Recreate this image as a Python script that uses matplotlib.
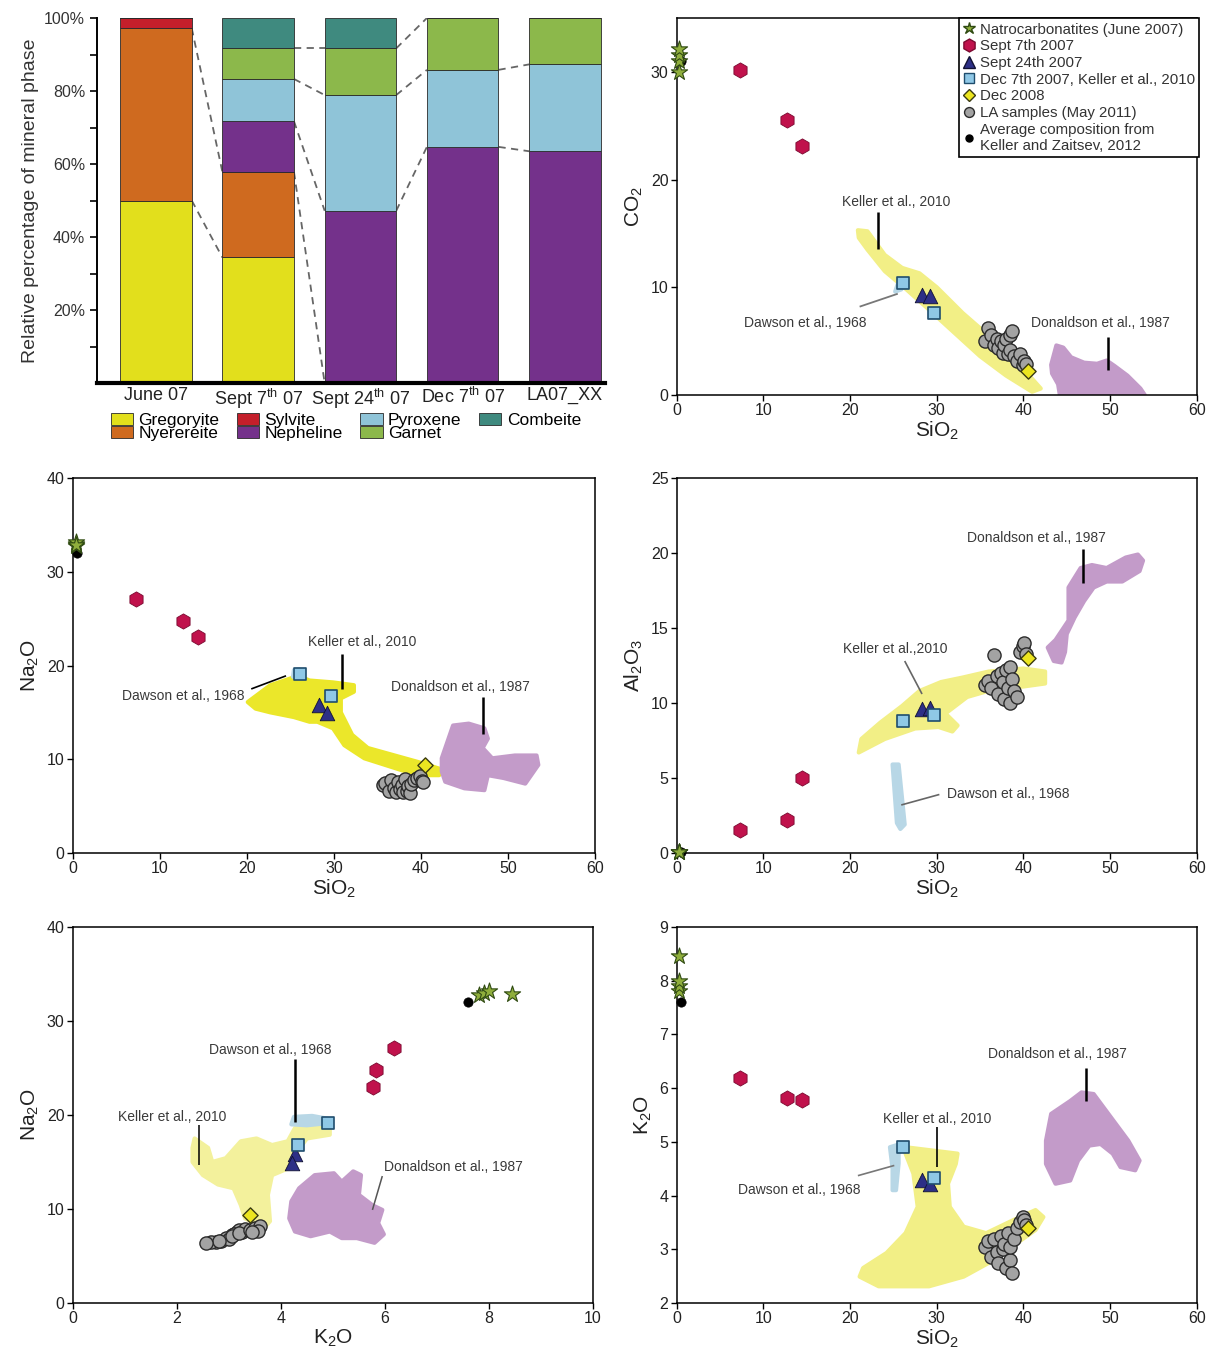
import numpy as np
import matplotlib.pyplot as plt
from matplotlib.patches import Polygon
from matplotlib.lines import Line2D

plt.rcParams['font.family'] = ['Liberation Sans', 'DejaVu Sans']
plt.rcParams['mathtext.fontset'] = 'custom'
plt.rcParams['mathtext.rm'] = 'Liberation Sans'
plt.rcParams['mathtext.it'] = 'Liberation Sans:italic'
plt.rcParams['mathtext.default'] = 'regular'

# ---- bar chart data (relative % of mineral phase) ----
samples = ["June 07", r"Sept 7$^{th}$ 07", r"Sept 24$^{th}$ 07", r"Dec 7$^{th}$ 07", "LA07_XX"]
phases = ["Gregoryite", "Nyerereite", "Sylvite", "Nepheline", "Pyroxene", "Garnet", "Combeite"]
gregoryite = [50.0, 34.4, 0, 0, 0]
nyerereite = [47.2, 23.4, 0, 0, 0]
sylvite = [2.8, 0, 0, 0, 0]
nepheline = [0, 13.9, 47.2, 64.7, 63.5]
pyroxene = [0, 11.6, 31.7, 21.1, 23.8]
garnet = [0, 8.4, 12.8, 14.2, 12.7]
combeite = [0, 8.3, 8.3, 0, 0]
phase_colors = ["#e2df1c", "#cf6a1f", "#c41f2b", "#74318b", "#8fc4d8", "#8cb84b", "#3f8a7f"]
# boundaries linked by dashed lines between neighbouring bars (gap, phase)
links = [(0, "Gregoryite"), (0, "Nyerereite"), (1, "Nyerereite"), (1, "Nepheline"),
         (1, "Pyroxene"), (1, "Garnet"), (2, "Nepheline"), (2, "Pyroxene"),
         (2, "Garnet"), (3, "Nepheline"), (3, "Pyroxene")]

# ---- sample compositions (wt%) ----
avg_sio2 = [0.5]
avg_co2 = [31.0]
avg_na2o = [32.0]
avg_al2o3 = [0.05]
avg_k2o = [7.6]

natro_sio2 = [0.3, 0.3, 0.3, 0.3]
natro_co2 = [30.0, 31.0, 31.6, 32.1]
natro_na2o = [32.8, 33.0, 33.2, 32.9]
natro_al2o3 = [0.05, 0.05, 0.05, 0.05]
natro_k2o = [7.8, 7.9, 8.0, 8.45]

sep7_sio2 = [7.3, 12.7, 14.4]
sep7_co2 = [30.2, 25.5, 23.1]
sep7_na2o = [27.1, 24.8, 23.0]
sep7_al2o3 = [1.5, 2.2, 5.0]
sep7_k2o = [6.18, 5.82, 5.78]

sep24_sio2 = [28.3, 29.2]
sep24_co2 = [9.3, 9.2]
sep24_na2o = [15.8, 14.9]
sep24_al2o3 = [9.6, 9.7]
sep24_k2o = [4.28, 4.22]

dec07_sio2 = [26.1, 29.7]
dec07_co2 = [10.4, 7.6]
dec07_na2o = [19.1, 16.8]
dec07_al2o3 = [8.8, 9.2]
dec07_k2o = [4.9, 4.32]

dec08_sio2 = [40.5]
dec08_co2 = [2.2]
dec08_na2o = [9.4]
dec08_al2o3 = [13.0]
dec08_k2o = [3.4]

la_sio2 = [35.6, 35.9, 36.3, 36.6, 36.9, 37.1, 37.4, 37.6, 37.8, 38.0,
           38.2, 38.4, 38.5, 38.7, 38.9, 39.2, 39.6, 39.9, 40.1, 40.3]
la_co2 = [5.0, 6.2, 5.6, 4.6, 5.2, 4.4, 5.0, 3.9, 4.6, 5.2,
          3.8, 5.6, 4.2, 5.9, 3.6, 3.2, 3.8, 2.8, 3.2, 2.9]
la_na2o = [7.2, 7.5, 6.6, 7.8, 6.9, 6.5, 7.6, 6.8, 7.3, 6.5,
           7.9, 6.6, 7.1, 6.4, 7.4, 7.8, 8.0, 8.2, 7.7, 7.6]
la_al2o3 = [11.2, 11.5, 11.0, 13.2, 11.8, 10.6, 12.0, 11.4, 10.3, 12.2,
            11.0, 12.4, 10.0, 11.6, 10.8, 10.4, 13.4, 13.8, 14.0, 13.3]
la_k2o = [3.05, 3.15, 2.85, 3.2, 2.95, 2.75, 3.25, 3.0, 3.1, 2.65,
          3.3, 2.8, 3.05, 2.55, 3.2, 3.4, 3.5, 3.6, 3.55, 3.45]

# ---- literature fields (outlines in wt%) ----
keller_co2 = [(20.9, 15.3), (22, 15.2), (24, 13.0), (26, 11.8), (28, 11.3), (30, 10.0),
              (33, 7.6), (36, 5.5), (39, 3.3), (42, 0.6), (41, 0.3), (38, 1.8),
              (35, 3.6), (32, 5.8), (29, 8.0), (26.5, 9.8), (24, 11.5), (22, 13.5), (21, 14.6)]
dawson_co2 = [(25.2, 9.6), (25.9, 9.8), (26.0, 10.4), (25.5, 10.3)]
donaldson_co2 = [(43.2, 2.8), (43.8, 4.6), (44.6, 4.4), (45.5, 3.5), (47, 3.0), (48.5, 2.9),
                 (49.6, 3.2), (50.5, 2.7), (52, 1.8), (53.5, 0.6), (54, 0.0), (44.2, 0.0),
                 (44, 1.0), (43.3, 2.0)]

keller_na2o = [(20.1, 16.1), (22.7, 17.9), (25.9, 18.9), (27.2, 18.4), (29.9, 18.2), (32.3, 17.9),
               (32.3, 17.2), (30.8, 16.5), (30.8, 15.0), (32.1, 12.6), (33.9, 11.2), (39.7, 9.7),
               (42.1, 9.0), (42.1, 8.3), (40.1, 8.3), (37.9, 8.8), (33.5, 10.1), (31.2, 11.5),
               (29.9, 13.3), (28.1, 14.0), (27.2, 14.0), (25.4, 14.5), (22.7, 15.0), (21, 15.4)]
dawson_na2o = [(25.3, 18.8), (26.1, 19.0), (26.0, 19.6), (25.4, 19.5)]
donaldson_na2o = [(42.4, 10.1), (43.7, 13.6), (45.5, 13.8), (47.3, 13.3), (47.7, 12.2), (47.1, 11.2),
                  (48.2, 10.1), (50.8, 10.4), (53.3, 10.4), (53.5, 9.4), (52, 7.4), (49.5, 8.0),
                  (47.7, 8.3), (47.3, 6.7), (45, 6.9), (42.8, 7.6), (42.4, 8.7)]

keller_al2o3 = [(21.0, 6.7), (24, 7.6), (27.5, 8.3), (30.2, 8.4), (31.8, 8.1), (32.4, 8.5),
                (31.0, 9.3), (33.5, 10.4), (36.5, 10.9), (40, 11.1), (42.5, 11.3), (42.5, 12.1),
                (40, 12.3), (36, 12.1), (33, 11.7), (30.5, 11.4), (28, 10.8), (26, 9.8),
                (23.5, 8.7), (21.3, 7.6)]
dawson_al2o3 = [(24.9, 5.9), (25.6, 5.9), (26.3, 1.9), (25.8, 1.6), (25.4, 2.0)]
donaldson_al2o3 = [(42.8, 13.7), (43.7, 14.2), (45.2, 15.5), (45.2, 17.7), (46.6, 19.0), (47.9, 19.2),
                   (49.6, 19.0), (51.8, 19.7), (53.2, 19.9), (53.8, 19.5), (53.4, 18.8), (51.4, 18.1),
                   (49.6, 18.1), (48.1, 17.7), (47.0, 16.8), (45.9, 15.7), (45.0, 14.6), (44.8, 13.4),
                   (44.4, 12.7), (43.5, 12.8)]

keller_kna = [(2.34, 17.5), (2.6, 16.5), (2.68, 15.0), (2.94, 15.4), (3.23, 17.2), (3.53, 17.5),
              (3.83, 16.8), (4.13, 17.2), (4.27, 18.6), (4.65, 18.9), (4.94, 18.6), (4.94, 17.9),
              (4.5, 17.5), (4.27, 15.8), (4.13, 14.3), (3.83, 13.6), (3.75, 11.5), (3.79, 8.7),
              (3.68, 8.0), (3.31, 9.0), (3.23, 10.4), (3.09, 12.2), (2.79, 12.6), (2.5, 13.6),
              (2.3, 15.0), (2.3, 16.5)]
dawson_kna = [(4.2, 19.0), (4.25, 19.8), (4.6, 19.9), (4.9, 19.6), (4.85, 19.1), (4.5, 18.9)]
donaldson_kna = [(4.2, 10.8), (4.35, 12.2), (4.65, 13.6), (5.02, 13.8), (5.17, 12.9), (5.39, 14.0),
                 (5.54, 13.6), (5.5, 11.5), (5.76, 10.4), (5.95, 9.9), (5.87, 8.5), (5.98, 7.3),
                 (5.8, 6.4), (5.46, 6.9), (5.17, 6.9), (4.94, 7.6), (4.57, 7.1), (4.27, 7.6),
                 (4.16, 9.0)]

keller_k2o = [(26.4, 4.9), (32.4, 4.78), (32.2, 4.59), (31.3, 4.22), (31.5, 3.79), (33.1, 3.42),
              (35.7, 3.3), (38.8, 3.54), (41.4, 3.73), (42.3, 3.6), (41.4, 3.36), (39.2, 3.11),
              (36.6, 2.8), (33.1, 2.49), (29.1, 2.31), (23.3, 2.31), (21.1, 2.49), (21.5, 2.65),
              (24.2, 2.93), (26.4, 3.3), (27.8, 3.79), (27.3, 4.41), (26.4, 4.78)]
dawson_k2o = [(24.6, 4.9), (25.6, 4.95), (25.6, 4.6), (25.3, 4.1), (24.9, 4.1), (24.9, 4.5)]
donaldson_k2o = [(43.2, 5.52), (45.4, 5.76), (46.7, 5.92), (48.1, 5.89), (49.8, 5.52), (52.1, 5.02),
                 (53.4, 4.65), (52.9, 4.47), (51.2, 4.53), (50.3, 4.78), (48.9, 4.96), (47.6, 4.93),
                 (46.3, 4.65), (45.4, 4.28), (43.7, 4.22), (42.6, 4.59), (42.6, 5.02)]

legend_labels = ["Natrocarbonatites (June 2007)", "Sept 7th 2007", "Sept 24th 2007",
                 "Dec 7th 2007, Keller et al., 2010", "Dec 2008", "LA samples (May 2011)",
                 "Average composition from\nKeller and Zaitsev, 2012"]

STYLES = {
    "la": dict(marker='o', s=90, facecolor='#a3a3a3', edgecolor='#2b2b2b', linewidths=1.0),
    "avg": dict(marker='o', s=45, facecolor='black', edgecolor='black', linewidths=0.5),
    "natro": dict(marker='*', s=150, facecolor='#8fae3c', edgecolor='#2f4a12', linewidths=0.8),
    "sep7": dict(marker='h', s=120, facecolor='#c0124c', edgecolor='#7a0a30', linewidths=0.6),
    "sep24": dict(marker='^', s=110, facecolor='#2d2f86', edgecolor='#111133', linewidths=0.6),
    "dec07": dict(marker='s', s=85, facecolor='#8fc8e6', edgecolor='#1f4d6d', linewidths=1.2),
    "dec08": dict(marker='D', s=60, facecolor='#ece520', edgecolor='#3a3a10', linewidths=1.0),
}

fig = plt.figure(figsize=(12.15, 13.55), dpi=100)

# ================= bar chart =================
ax = fig.add_axes([0.0798, 0.7173, 0.418, 0.2694])
values = np.array([gregoryite, nyerereite, sylvite, nepheline, pyroxene, garnet, combeite])
x = np.arange(len(samples))
width = 0.7
bottom = np.zeros(len(samples))
tops = {}
for name, vals, col in zip(phases, values, phase_colors):
    ax.bar(x, vals, width, bottom=bottom, color=col, edgecolor='#2a2a2a', linewidth=0.6, label=name)
    bottom = bottom + vals
    tops[name] = bottom.copy()
for gap, name in links:
    ax.plot([gap + width / 2, gap + 1 - width / 2], [tops[name][gap], tops[name][gap + 1]],
            ls=(0, (4, 3)), color='#666666', lw=1.3, zorder=0)
ax.set_xlim(-0.577, 4.39)
ax.set_ylim(0, 100)
ax.set_yticks(np.arange(10, 101, 10))
ax.set_yticklabels(['' if v % 20 else f'{v}%' for v in range(10, 101, 10)], fontsize=11.5, color='#333')
ax.set_xticks(x)
ax.set_xticklabels(samples, fontsize=13, color='#222')
ax.tick_params(axis='x', length=0, pad=3)
ax.tick_params(axis='y', direction='out', length=5, width=1.2)
for s in ['top', 'right']:
    ax.spines[s].set_visible(False)
ax.spines['bottom'].set_linewidth(3.0)
ax.spines['left'].set_linewidth(1.4)
ax.set_ylabel("Relative percentage of mineral phase", fontsize=14, color='#333', labelpad=4)
ax.legend(loc='upper center', bbox_to_anchor=(0.49, -0.04), ncol=4, frameon=False, fontsize=12.5,
          handlelength=1.3, handleheight=0.7, handletextpad=0.3, columnspacing=1.0, labelspacing=-0.15)


# ================= scatter panels =================
def style_axes(ax, xlim, ylim, xticks, yticks, xlabel, ylabel):
    ax.set_xlim(*xlim)
    ax.set_ylim(*ylim)
    ax.set_xticks(xticks)
    ax.set_yticks(yticks)
    ax.tick_params(direction='out', length=4, width=1.0, labelsize=11.5, labelcolor='#222', pad=2)
    for s in ax.spines.values():
        s.set_linewidth(1.1)
    ax.set_xlabel(xlabel, fontsize=15, color='#222', labelpad=1)
    ax.set_ylabel(ylabel, fontsize=15, color='#222', labelpad=4)


def add_fields(ax, keller, dawson, donaldson, kcol='#f2ef86'):
    for pts, col in [(keller, kcol), (dawson, '#b8d7e6'), (donaldson, '#c39bc9')]:
        ax.add_patch(Polygon(pts, closed=True, facecolor=col, edgecolor=col, lw=3,
                             joinstyle='round', zorder=1))


def add_points(ax, groups):
    for key, (xs, ys) in groups:
        ax.scatter(xs, ys, zorder=3, clip_on=False, **STYLES[key])


def note(ax, text, txy, lx, ly, lcol='black', lw=1.8):
    ax.text(txy[0], txy[1], text, ha='center', va='center', fontsize=10, color='#3a3a3a', zorder=5)
    ax.plot(lx, ly, color=lcol, lw=lw, zorder=4, solid_capstyle='butt')


# --- CO2 vs SiO2 ---
ax1 = fig.add_axes([0.557, 0.7085, 0.428, 0.2782])
add_fields(ax1, keller_co2, dawson_co2, donaldson_co2)
add_points(ax1, [("la", (la_sio2, la_co2)), ("avg", (avg_sio2, avg_co2)),
                 ("natro", (natro_sio2, natro_co2)), ("sep7", (sep7_sio2, sep7_co2)),
                 ("sep24", (sep24_sio2, sep24_co2)), ("dec07", (dec07_sio2, dec07_co2)),
                 ("dec08", (dec08_sio2, dec08_co2))])
note(ax1, "Keller et al., 2010", (25.3, 17.9), [23.2, 23.2], [17.0, 13.6])
note(ax1, "Dawson et al., 1968", (14.8, 6.7), [21.1, 25.5], [8.2, 9.4], lcol='#777777', lw=1.3)
note(ax1, "Donaldson et al., 1987", (48.9, 6.7), [49.7, 49.7], [5.4, 2.3])
style_axes(ax1, (0, 60), (0, 35), range(0, 61, 10), [0, 10, 20, 30], r"SiO$_2$", r"CO$_2$")
handles = [Line2D([], [], ls='none', marker=STYLES[k]['marker'],
                  markersize=np.sqrt(STYLES[k]['s']) * f,
                  markerfacecolor=STYLES[k]['facecolor'], markeredgecolor=STYLES[k]['edgecolor'])
           for k, f in [("natro", 0.75), ("sep7", 0.85), ("sep24", 0.85), ("dec07", 0.8),
                        ("dec08", 0.85), ("la", 0.75), ("avg", 0.75)]]
leg = ax1.legend(handles, legend_labels, loc='upper right', bbox_to_anchor=(1.005, 1.0),
                 borderaxespad=0, fontsize=10.8, fancybox=False, framealpha=1, edgecolor='black',
                 handlelength=0.8, handletextpad=0.3, labelspacing=0.18, borderpad=0.3)
leg.get_frame().set_linewidth(1.2)
for t in leg.get_texts():
    t.set_color('#333')

# --- Na2O vs SiO2 ---
ax2 = fig.add_axes([0.060, 0.3705, 0.4296, 0.2767])
add_fields(ax2, keller_na2o, dawson_na2o, donaldson_na2o, kcol='#ebe72a')
add_points(ax2, [("la", (la_sio2, la_na2o)), ("avg", (avg_sio2, avg_na2o)),
                 ("natro", (natro_sio2, natro_na2o)), ("sep7", (sep7_sio2, sep7_na2o)),
                 ("sep24", (sep24_sio2, sep24_na2o)), ("dec07", (dec07_sio2, dec07_na2o)),
                 ("dec08", (dec08_sio2, dec08_na2o))])
note(ax2, "Keller et al., 2010", (33.2, 22.5), [30.9, 30.9], [21.2, 17.5])
note(ax2, "Dawson et al., 1968", (12.7, 16.8), [20.5, 24.5], [17.5, 18.9], lw=1.2)
note(ax2, "Donaldson et al., 1987", (44.6, 17.7), [47.1, 47.1], [16.6, 12.7])
style_axes(ax2, (0, 60), (0, 40), range(0, 61, 10), range(0, 41, 10), r"SiO$_2$", r"Na$_2$O")

# --- Al2O3 vs SiO2 ---
ax3 = fig.add_axes([0.557, 0.3705, 0.428, 0.2767])
add_fields(ax3, keller_al2o3, dawson_al2o3, donaldson_al2o3)
add_points(ax3, [("la", (la_sio2, la_al2o3)), ("avg", (avg_sio2, avg_al2o3)),
                 ("natro", (natro_sio2, natro_al2o3)), ("sep7", (sep7_sio2, sep7_al2o3)),
                 ("sep24", (sep24_sio2, sep24_al2o3)), ("dec07", (dec07_sio2, dec07_al2o3)),
                 ("dec08", (dec08_sio2, dec08_al2o3))])
note(ax3, "Donaldson et al., 1987", (41.5, 21.0), [46.9, 46.9], [20.3, 18.0])
note(ax3, "Keller et al.,2010", (25.2, 13.6), [26.3, 28.3], [12.8, 10.6], lcol='#666666', lw=1.2)
note(ax3, "Dawson et al., 1968", (38.2, 3.9), [30.3, 25.9], [3.9, 3.2], lcol='#666666', lw=1.2)
style_axes(ax3, (0, 60), (0, 25), range(0, 61, 10), range(0, 26, 5), r"SiO$_2$", r"Al$_2$O$_3$")

# --- Na2O vs K2O ---
ax4 = fig.add_axes([0.060, 0.0384, 0.428, 0.2775])
add_fields(ax4, keller_kna, dawson_kna, donaldson_kna, kcol='#f3f19c')
add_points(ax4, [("la", (la_k2o, la_na2o)), ("avg", (avg_k2o, avg_na2o)),
                 ("natro", (natro_k2o, natro_na2o)), ("sep7", (sep7_k2o, sep7_na2o)),
                 ("sep24", (sep24_k2o, sep24_na2o)), ("dec07", (dec07_k2o, dec07_na2o)),
                 ("dec08", (dec08_k2o, dec08_na2o))])
note(ax4, "Dawson et al., 1968", (3.79, 26.9), [4.27, 4.27], [26.0, 19.3])
note(ax4, "Keller et al., 2010", (1.9, 19.8), [2.43, 2.43], [18.9, 14.7], lw=1.1)
note(ax4, "Donaldson et al., 1987", (7.32, 14.5), [5.95, 5.76], [13.5, 9.9], lcol='#555555', lw=1.1)
style_axes(ax4, (0, 10), (0, 40), range(0, 11, 2), range(0, 41, 10), r"K$_2$O", r"Na$_2$O")

# --- K2O vs SiO2 ---
ax5 = fig.add_axes([0.557, 0.0384, 0.428, 0.2775])
add_fields(ax5, keller_k2o, dawson_k2o, donaldson_k2o)
add_points(ax5, [("la", (la_sio2, la_k2o)), ("avg", (avg_sio2, avg_k2o)),
                 ("natro", (natro_sio2, natro_k2o)), ("sep7", (sep7_sio2, sep7_k2o)),
                 ("sep24", (sep24_sio2, sep24_k2o)), ("dec07", (dec07_sio2, dec07_k2o)),
                 ("dec08", (dec08_sio2, dec08_k2o))])
note(ax5, "Donaldson et al., 1987", (43.9, 6.63), [47.2, 47.2], [6.38, 5.76])
note(ax5, "Keller et al., 2010", (30.0, 5.42), [30.0, 30.0], [5.27, 4.53], lw=1.2)
note(ax5, "Dawson et al., 1968", (14.1, 4.1), [20.9, 25.1], [4.37, 4.56], lcol='#777777', lw=1.2)
style_axes(ax5, (0, 60), (2, 9), range(0, 61, 10), range(2, 10), r"SiO$_2$", r"K$_2$O")

fig.savefig("out.png", dpi=100)
